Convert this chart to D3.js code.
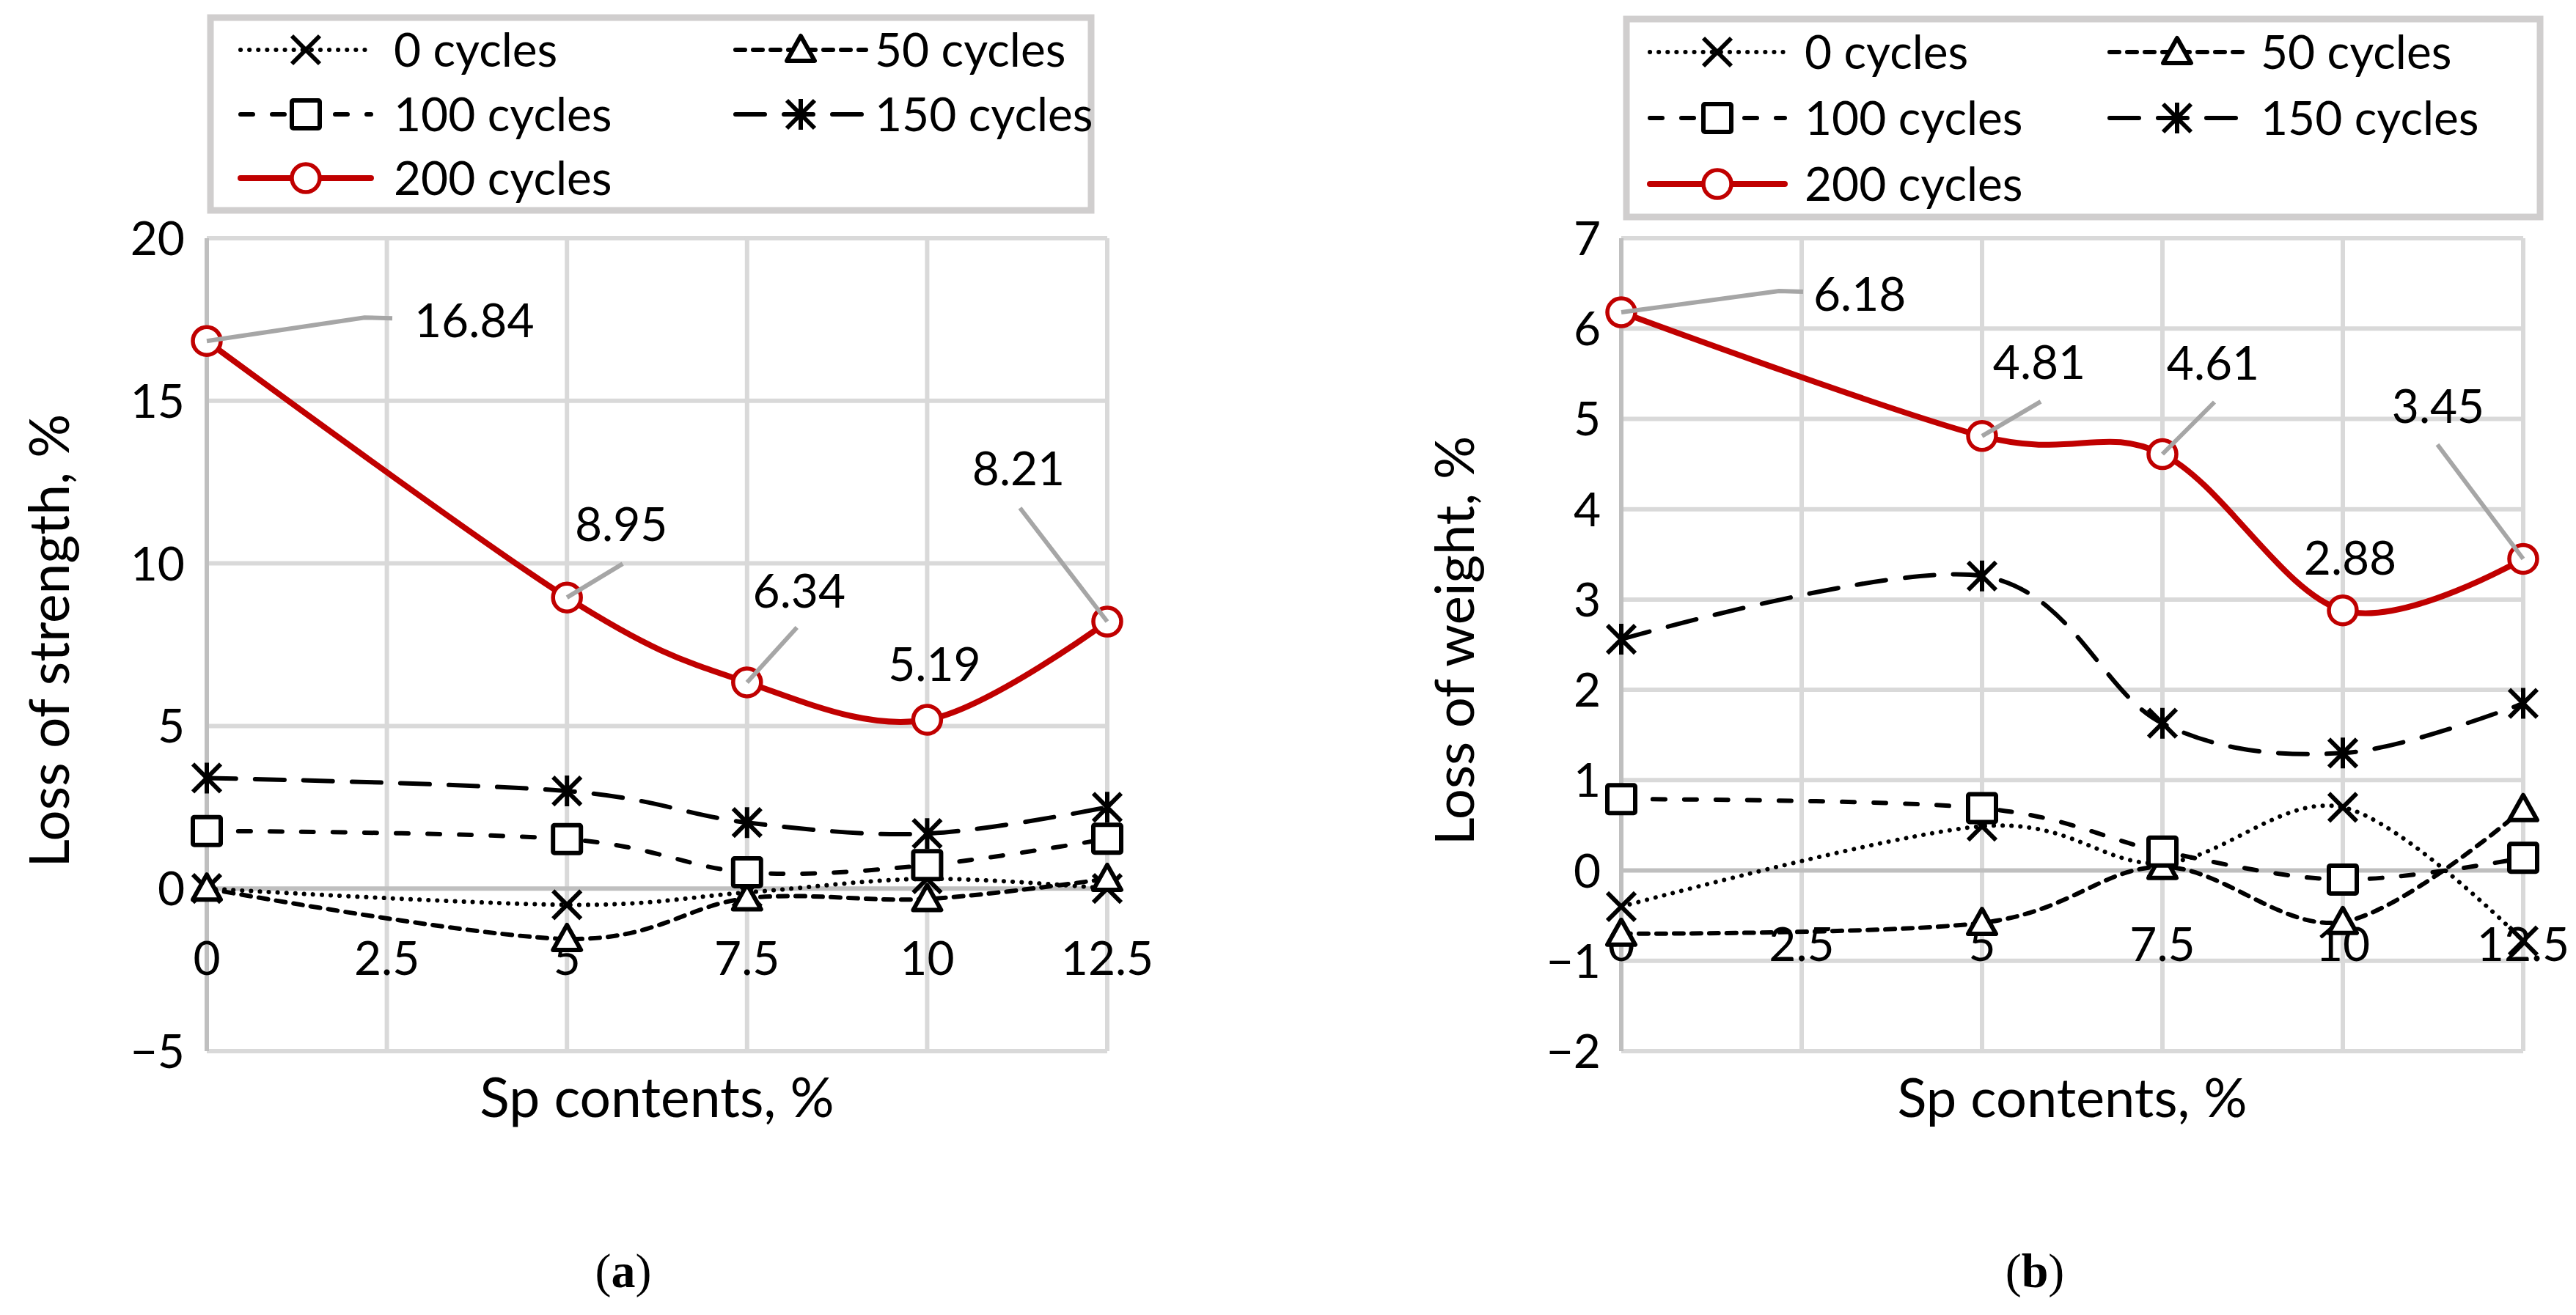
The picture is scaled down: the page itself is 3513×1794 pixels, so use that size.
<!DOCTYPE html>
<html>
<head>
<meta charset="utf-8">
<script src="https://cdnjs.cloudflare.com/ajax/libs/d3/7.8.5/d3.min.js"></script>
<style>
  html, body { margin: 0; padding: 0; background: #fff; }
  text { font-family: Lato, "Open Sans", sans-serif; fill: #000; }
</style>
</head>
<body>
<div id="chart"></div>
<script>
/**
 * DATA
 * */
const spContents = [0, 5, 7.5, 10, 12.5];
const xTicks = [0, 2.5, 5, 7.5, 10, 12.5];
const seriesNames = ["0 cycles", "50 cycles", "100 cycles", "150 cycles", "200 cycles"];

// (a) loss of strength, %
const strength0 = [0, -0.5, -0.12, 0.3, 0.0];
const strength50 = [0, -1.55, -0.3, -0.32, 0.3];
const strength100 = [1.77, 1.52, 0.5, 0.72, 1.53];
const strength150 = [3.4, 3.0, 2.03, 1.69, 2.5];
const strength200 = [16.84, 8.95, 6.34, 5.19, 8.21];
const strengthTicks = [-5, 0, 5, 10, 15, 20];

// (b) loss of weight, %
const weight0 = [-0.4, 0.49, 0.08, 0.7, -0.78];
const weight50 = [-0.7, -0.58, 0.04, -0.57, 0.68];
const weight100 = [0.79, 0.69, 0.21, -0.1, 0.14];
const weight150 = [2.56, 3.26, 1.63, 1.3, 1.85];
const weight200 = [6.18, 4.81, 4.61, 2.88, 3.45];
const weightTicks = [-2, -1, 0, 1, 2, 3, 4, 5, 6, 7];

/**
 * STYLES
 * */
const red = "#C00000";
const styles = [
  { marker: "x",        color: "#000", width: 6, dash: "0.1 12", cap: "round" },
  { marker: "triangle", color: "#000", width: 6, dash: "13 11", cap: "round" },
  { marker: "square",   color: "#000", width: 6, dash: "17 26", cap: "round" },
  { marker: "star",     color: "#000", width: 6, dash: "40 26", cap: "round" },
  { marker: "circle",   color: red,    width: 8, dash: null, cap: "round" }
];

const width = 3513, height = 1794;
const svg = d3.select("#chart").append("svg")
  .attr("width", width).attr("height", height);

function drawMarker(g, type, color) {
  const s = 19;
  if (type === "x" || type === "star") {
    g.append("path")
      .attr("d", `M${-s},${-s}L${s},${s}M${s},${-s}L${-s},${s}` + (type === "star" ? `M0,${-s - 2}L0,${s + 2}` : ""))
      .attr("stroke", color).attr("stroke-width", 6).attr("fill", "none");
  } else if (type === "triangle") {
    g.append("path")
      .attr("d", `M0,${-s}L${s},${s - 4}L${-s},${s - 4}Z`)
      .attr("stroke", color).attr("stroke-width", 6).attr("fill", "#fff")
      .attr("stroke-linejoin", "round");
  } else if (type === "square") {
    g.append("rect")
      .attr("x", -s).attr("y", -s).attr("width", 2 * s).attr("height", 2 * s)
      .attr("stroke", color).attr("stroke-width", 6).attr("fill", "#fff")
      .attr("rx", 2);
  } else {
    g.append("circle").attr("r", s)
      .attr("stroke", color).attr("stroke-width", 5.5).attr("fill", "#fff");
  }
}

function panel(cfg) {
  const xScale = d3.scaleLinear().domain([0, 12.5]).range([cfg.left, cfg.right]);
  const yScale = d3.scaleLinear().domain(cfg.yDomain).range([cfg.bottom, cfg.top]);
  const g = svg.append("g");

  // gridlines
  g.append("g").selectAll("line.h")
    .data(cfg.yTicks.filter(d => d !== 0))
    .join("line")
    .attr("x1", cfg.left).attr("x2", cfg.right)
    .attr("y1", d => yScale(d)).attr("y2", d => yScale(d))
    .attr("stroke", "#D9D9D9").attr("stroke-width", 6);
  g.append("g").selectAll("line.v")
    .data(xTicks.filter(d => d !== 0))
    .join("line")
    .attr("y1", cfg.top).attr("y2", cfg.bottom)
    .attr("x1", d => xScale(d)).attr("x2", d => xScale(d))
    .attr("stroke", "#D9D9D9").attr("stroke-width", 6);
  // axis lines
  g.append("line")
    .attr("x1", xScale(0)).attr("x2", xScale(0))
    .attr("y1", cfg.top).attr("y2", cfg.bottom)
    .attr("stroke", "#BFBFBF").attr("stroke-width", 6);
  g.append("line")
    .attr("x1", cfg.left).attr("x2", cfg.right)
    .attr("y1", yScale(0)).attr("y2", yScale(0))
    .attr("stroke", "#BFBFBF").attr("stroke-width", 6);

  // tick labels
  g.append("g").selectAll("text")
    .data(cfg.yTicks)
    .join("text")
    .attr("x", cfg.left - cfg.yLabelGap)
    .attr("y", d => yScale(d))
    .attr("dy", "0.36em")
    .attr("text-anchor", "end")
    .style("font-size", "64px")
    .text(d => d < 0 ? "\u2212" + Math.abs(d) : d);
  g.append("g").selectAll("text")
    .data(xTicks)
    .join("text")
    .attr("x", d => xScale(d))
    .attr("y", yScale(0) + cfg.xLabelGap)
    .attr("dy", "0.36em")
    .attr("text-anchor", "middle")
    .style("font-size", "64px")
    .text(d => d);

  // axis titles
  g.append("text")
    .attr("transform", `translate(${cfg.yTitleX},874) rotate(-90)`)
    .attr("text-anchor", "middle")
    .attr("dy", "0.36em")
    .style("font-size", cfg.yTitleSize + "px")
    .text(cfg.yTitle);
  g.append("text")
    .attr("x", (cfg.left + cfg.right) / 2)
    .attr("y", 1497)
    .attr("dy", "0.36em")
    .attr("text-anchor", "middle")
    .style("font-size", cfg.yTitleSize + "px")
    .text("Sp contents, %");

  // panel caption
  const cap = g.append("text")
    .attr("x", cfg.captionX).attr("y", 1732)
    .attr("dy", "0.36em")
    .attr("text-anchor", "middle")
    .style("font-family", "'Liberation Serif', serif")
    .style("font-size", "66px");
  cap.append("tspan").text("(");
  cap.append("tspan").style("font-weight", "bold").text(cfg.caption);
  cap.append("tspan").text(")");

  // series
  const lineFunc = d3.line()
    .x((d, i) => xScale(spContents[i]))
    .y(d => yScale(d))
    .curve(d3.curveCardinal.tension(0));

  cfg.series.forEach((values, si) => {
    const st = styles[si];
    const sg = g.append("g");
    sg.append("path")
      .datum(values)
      .attr("d", lineFunc)
      .attr("fill", "none")
      .attr("stroke", st.color)
      .attr("stroke-width", st.width)
      .attr("stroke-dasharray", st.dash)
      .attr("stroke-linecap", st.cap);
    sg.selectAll("g.mk")
      .data(values)
      .join("g")
      .attr("class", "mk")
      .attr("transform", (d, i) => `translate(${xScale(spContents[i])},${yScale(d)})`)
      .each(function () { drawMarker(d3.select(this), st.marker, st.color); });
  });

  // data labels for 200 cycles
  const top = cfg.series[4];
  cfg.labels.forEach((lb, i) => {
    const px = xScale(spContents[i]), py = yScale(top[i]);
    if (lb.leader) {
      const pts = [[px, py]].concat(lb.leader.map(p => [px + p[0], py + p[1]]));
      g.append("path")
        .attr("d", d3.line()(pts))
        .attr("fill", "none")
        .attr("stroke", "#A6A6A6")
        .attr("stroke-width", 6);
    }
    g.append("text")
      .attr("x", px + lb.dx).attr("y", py + lb.dy)
      .attr("dy", "0.36em")
      .attr("text-anchor", lb.anchor || "middle")
      .style("font-size", "64px")
      .text(d3.format(".2f")(top[i]));
  });

  // legend
  const L = cfg.legend;
  g.append("rect")
    .attr("x", L.x).attr("y", L.y).attr("width", L.w).attr("height", L.h)
    .attr("fill", "#fff").attr("stroke", "#D0CECE").attr("stroke-width", 9);
  seriesNames.forEach((name, si) => {
    const st = styles[si];
    const col = si === 4 ? 0 : si % 2;
    const row = Math.floor(si / 2);
    const sx = L.x + L.colSample[col], ty = L.rows[row];
    g.append("line")
      .attr("x1", sx).attr("x2", sx + L.sampleLen)
      .attr("y1", ty).attr("y2", ty)
      .attr("stroke", st.color).attr("stroke-width", st.width)
      .attr("stroke-dasharray", st.dash)
      .attr("stroke-linecap", st.cap);
    const mg = g.append("g").attr("transform", `translate(${sx + L.sampleLen / 2},${ty})`);
    drawMarker(mg, st.marker, st.color);
    g.append("text")
      .attr("x", L.x + L.colText[col]).attr("y", ty)
      .attr("dy", "0.36em")
      .style("font-size", "64px")
      .text(name);
  });
}

panel({
  left: 282, right: 1510, top: 325, bottom: 1434,
  yDomain: [-5, 20], yTicks: strengthTicks,
  yLabelGap: 30, xLabelGap: 95,
  yTitle: "Loss of strength, %", yTitleX: 67, yTitleSize: 75,
  caption: "a", captionX: 850,
  series: [strength0, strength50, strength100, strength150, strength200],
  labels: [
    { dx: 283, dy: -28, anchor: "start", leader: [[215, -32], [253, -31]] },
    { dx: 74, dy: -100, leader: [[76, -46]] },
    { dx: 71, dy: -125, leader: [[68, -75]] },
    { dx: 10, dy: -76 },
    { dx: -121, dy: -209, leader: [[-119, -155]] }
  ],
  legend: { x: 287, y: 24, w: 1201, h: 263, rows: [68, 156, 243],
            colSample: [41, 716], colText: [250, 906], sampleLen: 178 }
});

panel({
  left: 2211, right: 3441, top: 325, bottom: 1434,
  yDomain: [-2, 7], yTicks: weightTicks,
  yLabelGap: 28, xLabelGap: 100,
  yTitle: "Loss of weight, %", yTitleX: 1983, yTitleSize: 74,
  caption: "b", captionX: 2775,
  series: [weight0, weight50, weight100, weight150, weight200],
  labels: [
    { dx: 262, dy: -25, anchor: "start", leader: [[215, -29], [248, -28]] },
    { dx: 78, dy: -101, leader: [[80, -47]] },
    { dx: 69, dy: -125, leader: [[71, -71]] },
    { dx: 10, dy: -72 },
    { dx: -116, dy: -208, leader: [[-117, -156]] }
  ],
  legend: { x: 2218, y: 26, w: 1246, h: 270, rows: [71, 161, 251],
            colSample: [32, 659], colText: [243, 865], sampleLen: 184 }
});
</script>
</body>
</html>
